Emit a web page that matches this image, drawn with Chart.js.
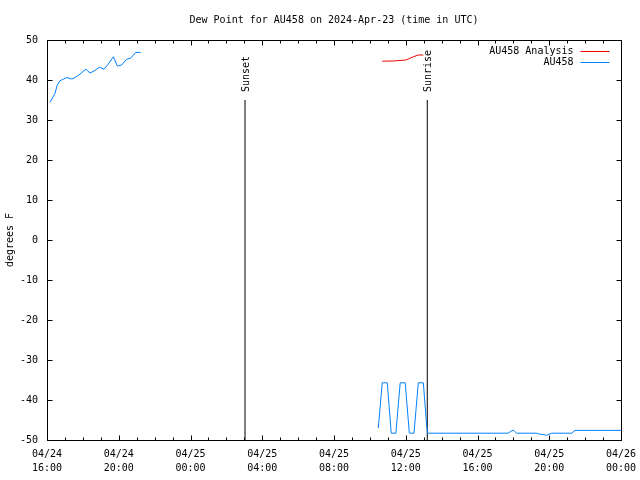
<!DOCTYPE html>
<html>
<head>
<meta charset="utf-8">
<script src="https://cdn.jsdelivr.net/npm/chart.js@4.4.1/dist/chart.umd.min.js"></script>
<style>
  html, body { margin: 0; padding: 0; background: #fff; }
  #wrap { width: 640px; height: 480px; }
</style>
</head>
<body>
<div id="wrap"><canvas id="grafico" width="640" height="480"></canvas></div>
<script>
// hours since 04/24 16:00 UTC
const tickLabels = [['04/24', '16:00'], ['04/24', '20:00'], ['04/25', '00:00'], ['04/25', '04:00'],
  ['04/25', '08:00'], ['04/25', '12:00'], ['04/25', '16:00'], ['04/25', '20:00'], ['04/26', '00:00']];

const analysisHours = [18.69, 19.3, 20.0, 20.14, 20.42, 20.7, 20.98];
const analysisValues = [44.7, 44.75, 45.0, 45.25, 45.8, 46.25, 46.25];

const obsHours = [0.17, 0.45, 0.57, 0.72, 0.91, 1.1, 1.38, 1.62, 1.84, 2.17, 2.4, 2.62, 2.92, 3.18, 3.42,
  3.7, 3.92, 4.16, 4.44, 4.67, 4.94, 5.22,
  12.0,
  18.47, 18.69, 18.97, 19.19, 19.45, 19.69, 19.97, 20.2, 20.46, 20.7, 20.98, 21.17, 21.22,
  25.7, 25.99, 26.18, 27.3, 27.44, 27.86, 28.13, 29.25, 29.43, 32.0];
const obsValues = [34.4, 36.7, 38.75, 39.8, 40.2, 40.6, 40.25, 40.75, 41.5, 42.7, 41.75, 42.25, 43.2, 42.7, 44.0,
  45.8, 43.5, 43.75, 45.2, 45.5, 46.9, 46.9,
  null,
  -47.0, -35.7, -35.7, -48.3, -48.3, -35.7, -35.7, -48.3, -48.3, -35.7, -35.7, -46.7, -48.3,
  -48.3, -47.5, -48.3, -48.3, -48.5, -48.8, -48.3, -48.3, -47.6, -47.6];

const sunEvents = ['Sunset', 'Sunrise'];
const sunHours = [11.04, 21.2];
const sunTop = 35;
const sunLabelAt = 37;

const fonte = '"DejaVu Sans Mono", "Liberation Mono", monospace';

function pares(xs, ys) {
  return xs.map((x, i) => ({ x: x, y: ys[i] }));
}

const conjuntos = [
  { label: 'AU458 Analysis', data: pares(analysisHours, analysisValues), borderColor: '#ee0000', legenda: true },
  { label: 'AU458', data: pares(obsHours, obsValues), borderColor: '#0080ff', legenda: true }
];
sunEvents.forEach((nome, i) => {
  conjuntos.push({ label: nome, data: [{ x: sunHours[i], y: -50 }, { x: sunHours[i], y: sunTop }],
    borderColor: '#000000', legenda: false });
});
conjuntos.forEach(d => { d.borderWidth = 1; d.pointRadius = 0; d.fill = false; d.tension = 0; d.spanGaps = false; });

const moldura = {
  id: 'moldura',
  afterDraw(chart) {
    const c = chart.ctx, a = chart.chartArea;
    const sx = chart.scales.x, sy = chart.scales.y;
    const L = Math.round(a.left) + 0.5, R = Math.round(a.right) + 0.5;
    const T = Math.round(a.top) + 0.5, B = Math.round(a.bottom) + 0.5;
    c.save();
    c.strokeStyle = '#000';
    c.lineWidth = 1;
    c.strokeRect(L, T, R - L, B - T);
    c.beginPath();
    for (let h = 0; h <= 32; h++) {
      const px = Math.round(sx.getPixelForValue(h)) + 0.5;
      const len = h % 4 === 0 ? 5 : 3;
      c.moveTo(px, B); c.lineTo(px, B - len);
      c.moveTo(px, T); c.lineTo(px, T + len);
    }
    for (let v = -50; v <= 50; v += 10) {
      const py = Math.round(sy.getPixelForValue(v)) + 0.5;
      c.moveTo(L, py); c.lineTo(L + 5, py);
      c.moveTo(R, py); c.lineTo(R - 5, py);
    }
    c.stroke();

    // sun labels
    c.fillStyle = '#000';
    c.font = '10px ' + fonte;
    c.textAlign = 'left';
    c.textBaseline = 'middle';
    sunEvents.forEach((nome, i) => {
      c.save();
      c.translate(Math.round(sx.getPixelForValue(sunHours[i])) + 1, sy.getPixelForValue(sunLabelAt));
      c.rotate(-Math.PI / 2);
      c.fillText(nome, 0, 0);
      c.restore();
    });

    // legend top right
    let linha = 0;
    chart.data.datasets.forEach(d => {
      if (!d.legenda) return;
      const y = a.top + 11 + linha * 11;
      c.textAlign = 'right';
      c.fillText(d.label, R - 48, y);
      c.strokeStyle = d.borderColor;
      c.beginPath();
      c.moveTo(R - 41, Math.round(y) + 0.5);
      c.lineTo(R - 12, Math.round(y) + 0.5);
      c.stroke();
      linha++;
    });
    c.restore();
  }
};

const ctx = document.getElementById('grafico').getContext('2d');
const grafico = new Chart(ctx, {
  type: 'line',
  data: { datasets: conjuntos },
  plugins: [moldura],
  options: {
    responsive: false,
    animation: false,
    layout: { padding: { left: 0, right: 19, top: 0, bottom: 0 } },
    plugins: {
      legend: { display: false },
      tooltip: { enabled: false },
      title: {
        display: true,
        fullSize: false,
        text: 'Dew Point for AU458 on 2024-Apr-23 (time in UTC)',
        color: '#000',
        font: { family: fonte, size: 10, weight: 'normal', lineHeight: 1.2 },
        padding: { top: 14, bottom: 14 }
      }
    },
    scales: {
      x: {
        type: 'linear',
        min: 0, max: 32,
        grid: { display: false, tickLength: 0 },
        border: { display: false },
        afterFit: s => { s.height = 40; s.paddingRight = 0; },
        ticks: {
          stepSize: 4,
          maxRotation: 0,
          autoSkip: false,
          padding: 7,
          color: '#000',
          font: { family: fonte, size: 10, lineHeight: 1.4 },
          callback: v => tickLabels[v / 4]
        }
      },
      y: {
        min: -50, max: 50,
        grid: { display: false, tickLength: 0 },
        border: { display: false },
        afterFit: s => { s.width = 47; },
        title: {
          display: true,
          text: 'degrees F',
          color: '#000',
          font: { family: fonte, size: 10 }
        },
        ticks: {
          stepSize: 10,
          padding: 9,
          color: '#000',
          font: { family: fonte, size: 10 }
        }
      }
    }
  }
});
</script>
</body>
</html>
